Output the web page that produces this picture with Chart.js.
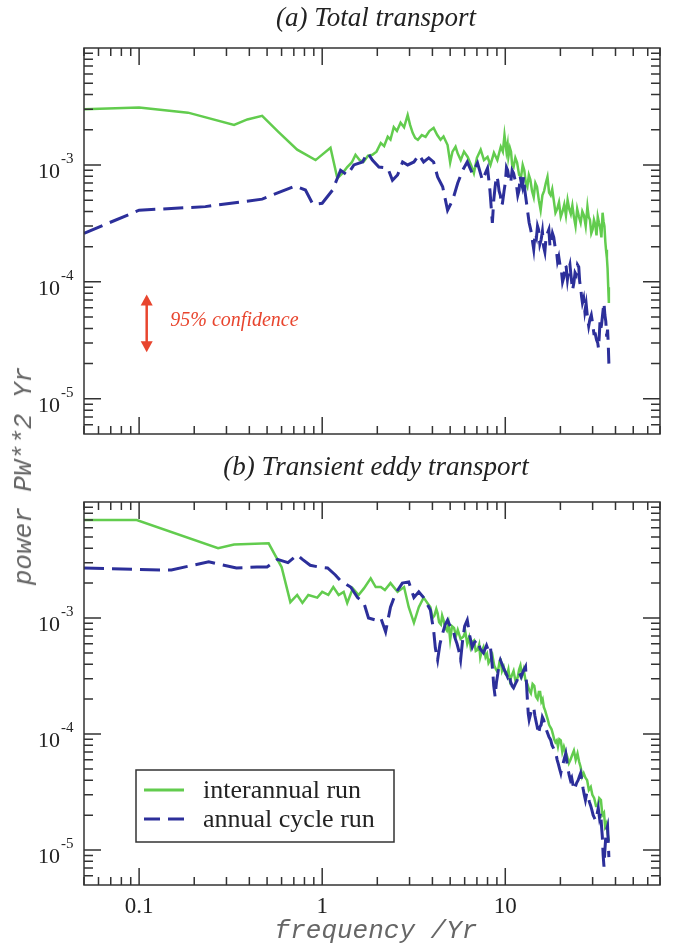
<!DOCTYPE html>
<html>
<head>
<meta charset="utf-8">
<script src="https://cdn.jsdelivr.net/npm/chart.js@4.4.1/dist/chart.umd.min.js"></script>
<style>
  body { margin: 0; background: #fff; }
  #wrap { position: relative; width: 678px; height: 945px; overflow: hidden; }
  canvas { position: absolute; left: 0; }
  #ylab {
    position: absolute; left: 24px; top: 476px;
    transform: translate(-50%, -50%) rotate(-90deg);
    white-space: nowrap; font: italic 26px 'Liberation Mono', monospace; color: #666;
  }
</style>
</head>
<body>
<div id="wrap">
  <canvas id="totalChart" width="678" height="455" style="top:0"></canvas>
  <canvas id="eddyChart" width="678" height="490" style="top:455px"></canvas>
  <div id="ylab">power PW**2 Yr</div>
</div>
<script>
// axis ticks
const xTickValues = [0.1, 1, 10];
const xTickLabels = ['0.1', '1', '10'];
const yTickExps = [-5, -4, -3];

// (a) total transport
const totalInterFreq = [0.05, 0.1, 0.185, 0.33, 0.39, 0.47, 0.58, 0.73, 0.92, 1.11,
  1.21, 1.3, 1.37, 1.45, 1.52, 1.6, 1.68, 1.78, 1.88, 1.98,
  2.09, 2.18, 2.28, 2.36, 2.46, 2.56, 2.68, 2.8, 2.93, 3.02,
  3.12, 3.22, 3.33, 3.5, 3.67, 3.85, 4.06, 4.25, 4.43, 4.6,
  4.84, 5.0, 5.15, 5.35, 5.5, 5.71, 5.95, 6.23, 6.5, 6.74,
  7.0, 7.34, 7.65, 8.0, 8.3, 8.67, 9.05, 9.45, 9.7, 9.9,
  10.15, 10.3, 10.4, 10.6, 10.75, 10.9, 11.1, 11.35, 11.6, 11.9,
  12.2, 12.45, 12.7, 12.95, 13.2, 13.45, 13.7, 14.0, 14.3, 14.6,
  14.9, 15.25, 15.6, 15.95, 16.3, 16.65, 17.0, 17.35, 17.7, 18.05,
  18.4, 18.8, 19.2, 19.65, 20.1, 20.55, 21.0, 21.45, 21.9, 22.35,
  22.8, 23.25, 23.7, 24.2, 24.7, 25.25, 25.8, 26.35, 26.9, 27.5,
  28.1, 28.55, 29.0, 29.5, 30.0, 30.5, 31.0, 31.5, 32.0, 32.5,
  33.0, 33.5, 34.0, 34.4, 34.8, 35.2, 35.5, 35.9, 36.2, 36.5,
  36.8];
const totalInterPower = [3.0e-3, 3.1e-3, 2.8e-3, 2.2e-3, 2.45e-3, 2.63e-3, 1.9e-3, 1.35e-3, 1.1e-3, 1.4e-3,
  7.7e-4, 8.6e-4, 9.6e-4, 1.05e-3, 1.22e-3, 1.1e-3, 1.06e-3, 1.2e-3, 1.22e-3, 1.3e-3,
  1.54e-3, 1.45e-3, 1.74e-3, 1.65e-3, 2.1e-3, 1.95e-3, 2.3e-3, 2.1e-3, 2.67e-3, 2.2e-3,
  1.88e-3, 1.7e-3, 1.64e-3, 1.8e-3, 1.74e-3, 1.95e-3, 2.07e-3, 1.8e-3, 1.64e-3, 1.75e-3,
  1.48e-3, 1.05e-3, 1.3e-3, 1.43e-3, 1.25e-3, 1.1e-3, 1.3e-3, 1.17e-3, 1.0e-3, 8.5e-4,
  1.15e-3, 1.35e-3, 1.1e-3, 1.17e-3, 1.0e-3, 1.27e-3, 1.1e-3, 1.43e-3, 1.3e-3, 1.8e-3,
  1.3e-3, 1.5e-3, 1.17e-3, 1.4e-3, 1.3e-3, 1.0e-3, 9.6e-4, 1.15e-3, 1.05e-3, 8.2e-4,
  7.9e-4, 1.0e-3, 9.0e-4, 7.0e-4, 6.5e-4, 8.2e-4, 7.5e-4, 6.0e-4, 5.3e-4, 7.0e-4,
  6.5e-4, 5.0e-4, 4.1e-4, 5.5e-4, 6.0e-4, 7.0e-4, 7.9e-4, 5.8e-4, 5.5e-4, 6.2e-4,
  5.0e-4, 3.9e-4, 4.2e-4, 4.8e-4, 3.6e-4, 4.0e-4, 4.6e-4, 3.7e-4, 5.0e-4, 4.2e-4,
  3.8e-4, 4.5e-4, 3.6e-4, 3.0e-4, 4.2e-4, 3.6e-4, 3.2e-4, 4.0e-4, 3.7e-4, 3.0e-4,
  4.4e-4, 3.6e-4, 3.4e-4, 2.6e-4, 2.8e-4, 3.4e-4, 3.1e-4, 2.5e-4, 3.6e-4, 3.2e-4,
  2.9e-4, 2.4e-4, 3.9e-4, 3.3e-4, 3.0e-4, 2.2e-4, 1.88e-4, 1.6e-4, 1.3e-4, 9.0e-5,
  6.6e-5];

const totalAnnFreq = [0.05, 0.1, 0.23, 0.47, 0.71, 0.81, 0.89, 1.0, 1.14, 1.21,
  1.26, 1.37, 1.49, 1.66, 1.77, 1.88, 2.04, 2.28, 2.42, 2.58,
  2.75, 2.93, 3.17, 3.38, 3.58, 3.82, 4.06, 4.27, 4.55, 4.84,
  5.16, 5.5, 5.85, 6.2, 6.6, 7.05, 7.5,
  8.0, 8.25, 8.5, 8.65, 8.8, 8.95, 9.1, 9.25, 9.4, 9.55,
  9.65, 9.85, 10.0, 10.15, 10.3, 10.5, 10.7, 10.9, 11.1, 11.3,
  11.5, 11.7, 11.9, 12.05, 12.2, 12.4, 12.6, 12.8, 13.0, 13.25,
  13.5, 13.7, 13.9, 14.1, 14.3, 14.55, 14.8, 15.0, 15.2, 15.45,
  15.7, 15.95, 16.2, 16.45, 16.7, 17.0, 17.3, 17.55, 17.8, 18.1,
  18.4, 18.7, 19.0, 19.3, 19.6, 19.9, 20.2, 20.55, 20.9, 21.2,
  21.5, 21.85, 22.2, 22.55, 22.9, 23.3, 23.7, 24.05, 24.4, 24.8,
  25.2, 25.5, 25.8, 26.1, 26.4, 26.8, 27.2, 27.65, 28.1, 28.55,
  29.0, 29.5, 30.0, 30.5, 31.0, 31.5, 32.0, 32.3, 32.6, 32.9,
  33.2, 33.55, 33.9, 34.25, 34.6, 35.0, 35.4, 35.8, 36.2, 36.5,
  36.8];
const totalAnnPower = [2.6e-4, 4.1e-4, 4.4e-4, 5.1e-4, 6.6e-4, 6.1e-4, 4.6e-4, 4.7e-4, 6.1e-4, 7.7e-4,
  9.0e-4, 8.2e-4, 1.0e-3, 1.06e-3, 1.27e-3, 1.1e-3, 9.6e-4, 9.4e-4, 7.4e-4, 8.2e-4,
  1.06e-3, 1.0e-3, 1.06e-3, 1.22e-3, 1.06e-3, 1.15e-3, 1.06e-3, 7.9e-4, 6.5e-4, 4.1e-4,
  5.0e-4, 7.0e-4, 9.0e-4, 1.06e-3, 8.5e-4, 1.04e-3, 7.4e-4,
  9.4e-4, 6.0e-4, 3.2e-4, 5.0e-4, 6.5e-4, 8.0e-4, 7.4e-4, 6.0e-4, 5.5e-4, 4.5e-4,
  4.7e-4, 6.0e-4, 7.0e-4, 9.5e-4, 9.0e-4, 7.5e-4, 7.0e-4, 9.0e-4, 8.5e-4, 7.5e-4,
  6.8e-4, 5.5e-4, 6.1e-4, 8.0e-4, 7.2e-4, 6.5e-4, 7.9e-4, 6.0e-4, 5.0e-4, 4.0e-4,
  3.2e-4, 2.9e-4, 2.6e-4, 2.2e-4, 1.9e-4, 2.6e-4, 2.4e-4, 3.0e-4, 2.8e-4, 2.1e-4,
  2.3e-4, 2.7e-4, 2.0e-4, 1.8e-4, 2.4e-4, 2.6e-4, 2.8e-4, 2.0e-4, 2.2e-4, 2.6e-4,
  2.4e-4, 2.0e-4, 1.9e-4, 1.5e-4, 1.64e-4, 1.4e-4, 1.3e-4, 1.0e-4, 1.1e-4, 1.4e-4,
  1.35e-4, 1.05e-4, 1.27e-4, 1.4e-4, 1.1e-4, 8.5e-5, 9.8e-5, 1.2e-4, 1.15e-4, 1.4e-4,
  1.34e-4, 1.0e-4, 9.0e-5, 7.5e-5, 6.6e-5, 7.2e-5, 5.6e-5, 6.5e-5, 5.0e-5, 4.2e-5,
  4.8e-5, 5.2e-5, 4.4e-5, 3.6e-5, 3.6e-5, 3.2e-5, 3.0e-5, 2.7e-5, 3.4e-5, 4.5e-5,
  3.9e-5, 4.3e-5, 5.0e-5, 5.8e-5, 6.6e-5, 5.2e-5, 4.6e-5, 3.4e-5, 3.9e-5, 3.0e-5,
  2.0e-5];

// (b) transient eddy transport
const eddyInterFreq = [0.05, 0.097, 0.27, 0.33, 0.51, 0.6, 0.67, 0.73, 0.78, 0.84,
  0.94, 1.0, 1.08, 1.15, 1.23, 1.31, 1.37, 1.47, 1.58, 1.69,
  1.84, 1.96, 2.09, 2.2, 2.36, 2.58, 2.8, 2.97, 3.17, 3.37,
  3.58,
  3.9, 4.0, 4.1, 4.2, 4.27, 4.35, 4.45, 4.52, 4.6, 4.7,
  4.8, 4.9, 5.0, 5.12, 5.25, 5.38, 5.5, 5.7, 5.9, 6.05,
  6.2, 6.35, 6.47, 6.6, 6.75, 6.9, 7.05, 7.2, 7.3, 7.45,
  7.6, 7.8, 7.95, 8.1, 8.3, 8.5, 8.7, 8.9, 9.1, 9.3,
  9.45, 9.6, 9.8, 10.0, 10.2, 10.4, 10.6, 10.85, 11.1, 11.4,
  11.7, 11.9, 12.1, 12.35, 12.6, 12.9, 13.2, 13.5, 13.8, 14.1,
  14.4, 14.7, 15.0, 15.25, 15.5, 15.75, 16.0, 16.25, 16.5, 16.8,
  17.1, 17.35, 17.6, 17.9, 18.2, 18.5, 18.8, 19.1, 19.4, 19.75,
  20.1, 20.5, 20.9, 21.35, 21.8, 22.25, 22.7, 23.2, 23.7, 24.25,
  24.8, 25.3, 25.8, 26.3, 26.8, 27.4, 28.0, 28.6, 29.3, 29.9,
  30.6, 31.3, 32.0, 32.6, 33.3, 33.9, 34.6, 35.1, 35.7, 36.2,
  36.8];
const eddyInterPower = [7.0e-3, 7.0e-3, 4.0e-3, 4.3e-3, 4.4e-3, 2.75e-3, 1.37e-3, 1.58e-3, 1.35e-3, 1.58e-3,
  1.5e-3, 1.68e-3, 1.58e-3, 1.85e-3, 1.58e-3, 1.68e-3, 1.35e-3, 1.8e-3, 1.58e-3, 1.8e-3,
  2.2e-3, 1.85e-3, 1.85e-3, 1.74e-3, 2.0e-3, 1.68e-3, 1.85e-3, 1.24e-3, 9.1e-4, 1.24e-3,
  1.5e-3,
  1.24e-3, 1.0e-3, 1.05e-3, 1.2e-3, 1.1e-3, 9.2e-4, 8.8e-4, 1.05e-3, 9.6e-4, 8.2e-4,
  7.8e-4, 9.0e-4, 6.5e-4, 8.5e-4, 8.2e-4, 7.0e-4, 7.9e-4, 6.6e-4, 6.9e-4, 7.6e-4,
  6.0e-4, 6.8e-4, 5.6e-4, 6.2e-4, 6.4e-4, 5.2e-4, 5.3e-4, 5.9e-4, 4.6e-4, 5.2e-4,
  5.6e-4, 4.6e-4, 4.9e-4, 4.1e-4, 4.4e-4, 4.8e-4, 3.9e-4, 3.6e-4, 3.4e-4, 4.2e-4,
  4.3e-4, 3.5e-4, 3.8e-4, 3.3e-4, 3.2e-4, 3.6e-4, 2.9e-4, 3.2e-4, 3.5e-4, 2.8e-4,
  3.1e-4, 3.6e-4, 3.9e-4, 3.2e-4, 3.6e-4, 2.9e-4, 2.7e-4, 2.4e-4, 2.25e-4, 2.7e-4,
  2.6e-4, 2.1e-4, 2.0e-4, 2.3e-4, 2.3e-4, 1.9e-4, 2.0e-4, 1.7e-4, 1.6e-4, 1.45e-4,
  1.32e-4, 1.2e-4, 1.15e-4, 1.1e-4, 1.0e-4, 9.0e-5, 8.5e-5, 8.8e-5, 7.8e-5, 9.0e-5,
  8.8e-5, 7.0e-5, 7.8e-5, 7.0e-5, 6.4e-5, 5.6e-5, 6.0e-5, 6.6e-5, 7.2e-5, 6.0e-5,
  6.8e-5, 5.8e-5, 5.2e-5, 4.3e-5, 4.6e-5, 4.2e-5, 4.0e-5, 3.3e-5, 3.5e-5, 3.0e-5,
  2.8e-5, 2.4e-5, 2.4e-5, 2.8e-5, 2.7e-5, 2.0e-5, 2.1e-5, 1.6e-5, 1.7e-5, 1.4e-5,
  1.2e-5];

const eddyAnnFreq = [0.05, 0.13, 0.15, 0.24, 0.34, 0.44, 0.5, 0.57, 0.65, 0.73,
  0.78, 0.86, 0.96, 1.07, 1.18, 1.26, 1.43, 1.56, 1.69, 1.79,
  1.96, 2.09, 2.22, 2.36, 2.52, 2.74, 2.97, 3.17, 3.37, 3.58,
  3.9, 3.98, 4.06, 4.15, 4.27, 4.4, 4.55, 4.7, 4.84, 5.0,
  5.2, 5.3, 5.45, 5.58, 5.7, 5.85, 6.0, 6.2, 6.4, 6.6,
  6.8, 7.05, 7.3, 7.6, 7.9, 8.1, 8.3, 8.45, 8.55, 8.65,
  8.8, 8.95, 9.1, 9.25, 9.4, 9.6, 9.85, 10.05, 10.3, 10.5,
  10.7, 10.9, 11.1, 11.35, 11.6, 11.9, 12.2, 12.55, 12.9, 13.05,
  13.2, 13.35, 13.5, 13.9, 14.3, 14.5, 14.7, 14.95, 15.2, 15.45,
  15.7, 15.95, 16.2, 16.55, 16.9, 17.3, 17.7, 18.0, 18.3, 18.6,
  18.9, 19.2, 19.5, 19.8, 20.1, 20.4, 20.7, 21.05, 21.4, 21.7,
  22.0, 22.35, 22.7, 23.05, 23.4, 23.75, 24.1, 24.55, 25.0, 25.4,
  25.8, 26.2, 26.6, 27.0, 27.4, 27.85, 28.3, 28.8, 29.3, 29.75,
  30.2, 30.65, 31.1, 31.65, 32.2, 32.7, 33.2, 33.55, 33.9, 34.25,
  34.6, 35.0, 35.4, 35.8, 36.2, 36.5, 36.8];
const eddyAnnPower = [2.7e-3, 2.6e-3, 2.6e-3, 3.05e-3, 2.7e-3, 2.75e-3, 2.75e-3, 3.2e-3, 3.0e-3, 3.5e-3,
  3.2e-3, 2.85e-3, 2.75e-3, 2.7e-3, 2.35e-3, 2.1e-3, 1.85e-3, 1.5e-3, 1.35e-3, 1.0e-3,
  9.6e-4, 1.0e-3, 7.6e-4, 1.24e-3, 1.64e-3, 2.0e-3, 2.05e-3, 1.5e-3, 1.68e-3, 1.5e-3,
  1.17e-3, 9.5e-4, 7.9e-4, 5.5e-4, 4.35e-4, 6.0e-4, 7.4e-4, 8.8e-4, 9.6e-4, 8.5e-4,
  7.9e-4, 6.8e-4, 6.0e-4, 5.2e-4, 4.35e-4, 6.5e-4, 8.5e-4, 9.6e-4, 7.0e-4, 5.6e-4,
  6.2e-4, 6.5e-4, 5.4e-4, 5.0e-4, 5.8e-4, 5.2e-4, 5.6e-4, 4.2e-4, 3.4e-4, 2.6e-4,
  2.1e-4, 2.8e-4, 3.3e-4, 4.0e-4, 4.35e-4, 4.0e-4, 3.6e-4, 3.4e-4, 3.1e-4, 3.3e-4,
  2.8e-4, 2.6e-4, 2.5e-4, 2.7e-4, 2.9e-4, 3.4e-4, 3.1e-4, 3.5e-4, 3.8e-4, 2.8e-4,
  2.0e-4, 1.5e-4, 1.33e-4, 1.6e-4, 1.7e-4, 1.45e-4, 1.3e-4, 1.15e-4, 1.0e-4, 1.15e-4,
  1.2e-4, 1.4e-4, 1.33e-4, 1.15e-4, 1.05e-4, 9.5e-5, 8.9e-5, 8.0e-5, 7.6e-5, 7.2e-5,
  6.8e-5, 6.0e-5, 5.5e-5, 5.0e-5, 4.6e-5, 5.2e-5, 5.6e-5, 6.2e-5, 6.8e-5, 5.8e-5,
  5.0e-5, 4.4e-5, 4.0e-5, 4.2e-5, 3.7e-5, 3.3e-5, 3.5e-5, 3.8e-5, 4.0e-5, 4.3e-5,
  4.6e-5, 4.0e-5, 3.4e-5, 3.0e-5, 2.7e-5, 3.1e-5, 2.9e-5, 2.6e-5, 2.4e-5, 2.2e-5,
  2.0e-5, 1.9e-5, 1.8e-5, 2.0e-5, 2.3e-5, 1.9e-5, 2.1e-5, 1.6e-5, 1.3e-5, 9.0e-6,
  7.2e-6, 1.0e-5, 1.3e-5, 1.5e-5, 1.6e-5, 1.2e-5, 8.7e-6];

const GREEN = '#62cc4e';
const BLUE = '#2c2f9a';

function pairs(fs, ps) {
    return fs.map((f, i) => ({ x: f, y: ps[i] }));
}

// frame, inward ticks on all sides, labels, titles
const framePlugin = {
    id: 'frame',
    afterDatasetsDraw(chart, args, opts) {
        const { ctx, chartArea: a, scales: { x, y } } = chart;
        ctx.save();
        ctx.strokeStyle = '#333';
        ctx.lineWidth = 1.5;
        ctx.setLineDash([]);
        ctx.strokeRect(a.left, a.top, a.right - a.left, a.bottom - a.top);

        // x ticks
        for (let d = -2; d <= 1; d++) {
            for (let m = 1; m <= 9; m++) {
                const v = m * Math.pow(10, d);
                if (v < 0.05 || v > 70) continue;
                const px = x.getPixelForValue(v);
                const len = m === 1 ? 17 : 8;
                ctx.beginPath();
                ctx.moveTo(px, a.bottom); ctx.lineTo(px, a.bottom - len);
                ctx.moveTo(px, a.top); ctx.lineTo(px, a.top + len);
                ctx.stroke();
            }
        }
        // y ticks
        for (let d = -6; d <= -3; d++) {
            for (let m = 1; m <= 9; m++) {
                const v = m * Math.pow(10, d);
                if (v < 5e-6 || v > 1e-2) continue;
                const py = y.getPixelForValue(v);
                const len = m === 1 ? 17 : 9;
                ctx.beginPath();
                ctx.moveTo(a.left, py); ctx.lineTo(a.left + len, py);
                ctx.moveTo(a.right, py); ctx.lineTo(a.right - len, py);
                ctx.stroke();
            }
        }

        ctx.fillStyle = '#222';
        // y labels
        yTickExps.forEach(e => {
            const py = y.getPixelForValue(Math.pow(10, e));
            ctx.font = '22px "Liberation Serif"';
            ctx.textAlign = 'right';
            ctx.textBaseline = 'alphabetic';
            ctx.fillText('10', a.left - 24, py + 13);
            ctx.font = '15px "Liberation Serif"';
            ctx.textAlign = 'left';
            ctx.fillText('-' + Math.abs(e), a.left - 23, py - 2);
        });

        // x labels (bottom panel only)
        if (opts.xLabels) {
            ctx.font = '23px "Liberation Serif"';
            ctx.textAlign = 'center';
            xTickValues.forEach((v, i) => {
                ctx.fillText(xTickLabels[i], x.getPixelForValue(v), a.bottom + 28);
            });
            ctx.fillStyle = '#666';
            ctx.font = 'italic 26px "Liberation Mono"';
            ctx.fillText('frequency /Yr', (a.left + a.right) / 2 + 4, a.bottom + 53);
        }

        // title
        ctx.fillStyle = '#222';
        ctx.font = 'italic 27px "Liberation Serif"';
        ctx.textAlign = 'center';
        ctx.fillText(opts.title, (a.left + a.right) / 2 + 4, opts.titleY);
        ctx.restore();
    }
};

// 95% confidence arrow (top panel)
const confidencePlugin = {
    id: 'confidence',
    afterDatasetsDraw(chart, args, opts) {
        if (!opts.show) return;
        const { ctx, scales: { x, y } } = chart;
        const red = '#e8452e';
        const px = x.getPixelForValue(0.11);
        const top = y.getPixelForValue(7.8e-5);
        const bot = y.getPixelForValue(2.5e-5);
        ctx.save();
        ctx.strokeStyle = red; ctx.fillStyle = red; ctx.lineWidth = 2.5;
        ctx.beginPath(); ctx.moveTo(px, top + 6); ctx.lineTo(px, bot - 6); ctx.stroke();
        ctx.beginPath(); ctx.moveTo(px, top); ctx.lineTo(px - 6, top + 11); ctx.lineTo(px + 6, top + 11); ctx.closePath(); ctx.fill();
        ctx.beginPath(); ctx.moveTo(px, bot); ctx.lineTo(px - 6, bot - 11); ctx.lineTo(px + 6, bot - 11); ctx.closePath(); ctx.fill();
        ctx.font = 'italic 20px "Liberation Serif"';
        ctx.textAlign = 'left';
        ctx.fillText('95% confidence', x.getPixelForValue(0.148), y.getPixelForValue(4.2e-5));
        ctx.restore();
    }
};

// legend box (bottom panel)
const legendPlugin = {
    id: 'boxLegend',
    afterDatasetsDraw(chart, args, opts) {
        if (!opts.show) return;
        const { ctx, chartArea: a } = chart;
        const bx = a.left + 52, by = a.top + 268, bw = 258, bh = 72;
        ctx.save();
        ctx.fillStyle = '#fff';
        ctx.fillRect(bx, by, bw, bh);
        ctx.strokeStyle = '#333'; ctx.lineWidth = 1.5;
        ctx.strokeRect(bx, by, bw, bh);
        ctx.lineWidth = 3;
        ctx.strokeStyle = GREEN;
        ctx.beginPath(); ctx.moveTo(bx + 8, by + 20); ctx.lineTo(bx + 48, by + 20); ctx.stroke();
        ctx.strokeStyle = BLUE;
        ctx.setLineDash([16, 8]);
        ctx.beginPath(); ctx.moveTo(bx + 8, by + 49); ctx.lineTo(bx + 48, by + 49); ctx.stroke();
        ctx.setLineDash([]);
        ctx.fillStyle = '#222';
        ctx.font = '26px "Liberation Serif"';
        ctx.textAlign = 'left';
        ctx.fillText('interannual run', bx + 67, by + 28);
        ctx.fillText('annual cycle run', bx + 67, by + 57);
        ctx.restore();
    }
};

function makeChart(id, annData, interData, pad, plugOpts) {
    return new Chart(document.getElementById(id).getContext('2d'), {
        type: 'line',
        data: {
            datasets: [{
                label: 'annual cycle run',
                data: annData,
                borderColor: BLUE,
                borderWidth: 3,
                borderDash: [20, 8],
                pointRadius: 0,
                tension: 0
            }, {
                label: 'interannual run',
                data: interData,
                borderColor: GREEN,
                borderWidth: 2.5,
                pointRadius: 0,
                tension: 0
            }]
        },
        options: {
            responsive: false,
            animation: false,
            layout: { padding: pad },
            plugins: {
                legend: { display: false },
                tooltip: { enabled: false },
                frame: plugOpts.frame,
                confidence: plugOpts.confidence,
                boxLegend: plugOpts.legend
            },
            scales: {
                x: { type: 'logarithmic', min: 0.05, max: 70, display: false },
                y: { type: 'logarithmic', min: 5e-6, max: 1e-2, display: false }
            }
        },
        plugins: [framePlugin, confidencePlugin, legendPlugin]
    });
}

makeChart('totalChart',
    pairs(totalAnnFreq, totalAnnPower),
    pairs(totalInterFreq, totalInterPower),
    { left: 84, right: 18, top: 48, bottom: 21 },
    {
        frame: { title: '(a) Total transport', titleY: 26, xLabels: false },
        confidence: { show: true },
        legend: { show: false }
    });

makeChart('eddyChart',
    pairs(eddyAnnFreq, eddyAnnPower),
    pairs(eddyInterFreq, eddyInterPower),
    { left: 84, right: 18, top: 47, bottom: 60 },
    {
        frame: { title: '(b) Transient eddy transport', titleY: 20, xLabels: true },
        confidence: { show: false },
        legend: { show: true }
    });
</script>
</body>
</html>
